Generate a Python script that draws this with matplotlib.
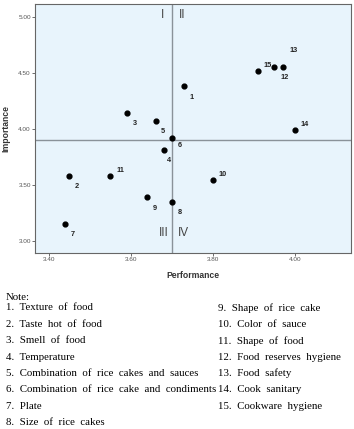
import matplotlib.pyplot as plt

# IPA data: performance (x) vs importance (y)
item_no = [1, 2, 3, 4, 5, 6, 7, 8, 9, 10, 11, 12, 13, 14, 15]
performance = [3.73, 3.45, 3.59, 3.68, 3.66, 3.70, 3.44, 3.70, 3.64, 3.80, 3.55, 3.95, 3.97, 4.00, 3.91]
importance = [4.38, 3.58, 4.14, 3.81, 4.07, 3.92, 3.15, 3.35, 3.39, 3.54, 3.58, 4.55, 4.55, 3.99, 4.51]
# label offsets (points) so the numbers sit like in the original
label_dx = [4, 4, 4, 2, 4, 4, 4, 4, 4, 4, 4, 4, 5, 4, 4]
label_dy = [-9, -9, -9, -9, -9, -7, -9, -9, -9, 3, 3, -9, 11, 3, 3]

perf_mean = 3.70
imp_mean = 3.90

xticks = [3.40, 3.60, 3.80, 4.00]
yticks = [3.00, 3.50, 4.00, 4.50, 5.00]

notes_left = [
    "1.  Texture  of  food",
    "2.  Taste  hot  of  food",
    "3.  Smell  of  food",
    "4.  Temperature",
    "5.  Combination  of  rice  cakes  and  sauces",
    "6.  Combination  of  rice  cake  and  condiments",
    "7.  Plate",
    "8.  Size  of  rice  cakes",
]
notes_right = [
    "9.  Shape  of  rice  cake",
    "10.  Color  of  sauce",
    "11.  Shape  of  food",
    "12.  Food  reserves  hygiene",
    "13.  Food  safety",
    "14.  Cook  sanitary",
    "15.  Cookware  hygiene",
]

sans = "Liberation Sans"

fig = plt.figure(figsize=(3.54, 4.29), dpi=100)
ax = fig.add_axes([0.099, 0.41, 0.893, 0.581])
ax.set_facecolor("#e8f4fc")

ax.scatter(performance, importance, s=12, color="black", zorder=3)
for n, x, y, dx, dy in zip(item_no, performance, importance, label_dx, label_dy):
    ax.annotate(str(n), (x, y), xytext=(dx, dy), textcoords="offset points",
                fontsize=5.3, fontweight="bold", color="#222222", family=sans)

ax.axvline(perf_mean, color="#8a9299", lw=1, zorder=2)
ax.axhline(imp_mean, color="#8a9299", lw=1, zorder=2)

quad_kw = dict(fontsize=8.5, color="#444444", ha="center", va="center", family=sans)
ax.text(3.677, 5.01, "I", **quad_kw)
ax.text(3.725, 5.01, "II", **quad_kw)
ax.text(3.68, 3.07, "III", **quad_kw)
ax.text(3.728, 3.07, "IV", **quad_kw)

ax.set_xlim(3.366, 4.137)
ax.set_ylim(2.89, 5.113)
ax.set_xticks(xticks)
ax.set_yticks(yticks)
ax.set_xticklabels(["%.2f" % t for t in xticks], family=sans)
ax.set_yticklabels(["%.2f" % t for t in yticks], family=sans)
ax.tick_params(labelsize=4.6, colors="#555555", length=2, width=0.6, pad=1)
for s in ax.spines.values():
    s.set_color("#666666")
    s.set_linewidth(0.8)

ax.set_xlabel("Performance", fontsize=6.2, fontweight="bold", color="#333333",
              labelpad=6, family=sans)
ax.set_ylabel("Importance", fontsize=6.2, fontweight="bold", color="#333333",
              labelpad=6, family=sans)

serif = "Liberation Serif"
fs = 7.8
fig.text(6 / 354, 1 - 297 / 429, "Note:", family=serif, fontsize=fs, va="center")
line_h = 16.4
for i, t in enumerate(notes_left):
    fig.text(6 / 354, 1 - (308 + i * line_h) / 429, t, family=serif, fontsize=fs, va="center")
for i, t in enumerate(notes_right):
    fig.text(218 / 354, 1 - (308 + i * line_h) / 429, t, family=serif, fontsize=fs, va="center")

fig.savefig("out.png", dpi=100)
